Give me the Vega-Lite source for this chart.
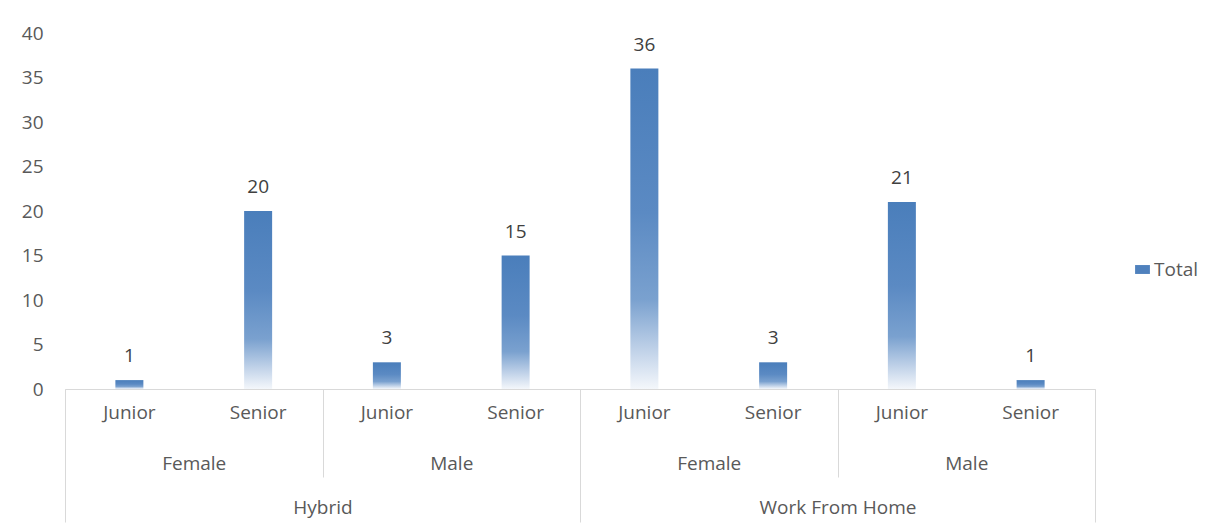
{
  "$schema": "https://vega.github.io/schema/vega-lite/v6.json",
  "width": 1030,
  "height": 356,
  "autosize": "none",
  "padding": {"left": 65, "top": 33, "right": 125, "bottom": 140},
  "background": "white",
  "config": {"view": {"stroke": null}, "font": "Open Sans"},
  "data": {
    "values": [
      {"mode": "Hybrid", "gender": "Female", "level": "Junior", "gkey": "Hybrid|Female", "key": "Hybrid|Female|Junior", "Total": 1},
      {"mode": "Hybrid", "gender": "Female", "level": "Senior", "gkey": "Hybrid|Female", "key": "Hybrid|Female|Senior", "Total": 20},
      {"mode": "Hybrid", "gender": "Male", "level": "Junior", "gkey": "Hybrid|Male", "key": "Hybrid|Male|Junior", "Total": 3},
      {"mode": "Hybrid", "gender": "Male", "level": "Senior", "gkey": "Hybrid|Male", "key": "Hybrid|Male|Senior", "Total": 15},
      {"mode": "Work From Home", "gender": "Female", "level": "Junior", "gkey": "Work From Home|Female", "key": "Work From Home|Female|Junior", "Total": 36},
      {"mode": "Work From Home", "gender": "Female", "level": "Senior", "gkey": "Work From Home|Female", "key": "Work From Home|Female|Senior", "Total": 3},
      {"mode": "Work From Home", "gender": "Male", "level": "Junior", "gkey": "Work From Home|Male", "key": "Work From Home|Male|Junior", "Total": 21},
      {"mode": "Work From Home", "gender": "Male", "level": "Senior", "gkey": "Work From Home|Male", "key": "Work From Home|Male|Senior", "Total": 1}
    ]
  },
  "layer": [
    {
      "layer": [
        {
          "mark": {
            "type": "bar",
            "size": 28,
            "fill": {
              "gradient": "linear",
              "x1": 0, "y1": 0, "x2": 0, "y2": 1,
              "stops": [
                {"offset": 0, "color": "#4a7ebb"},
                {"offset": 0.45, "color": "#5b8ac3"},
                {"offset": 0.72, "color": "#7aa1cf"},
                {"offset": 0.87, "color": "#bccfe7"},
                {"offset": 1, "color": "#f4f7fb"}
              ]
            }
          },
          "encoding": {
            "x": {
              "field": "key", "type": "nominal", "sort": null,
              "scale": {"type": "band", "paddingInner": 0, "paddingOuter": 0},
              "axis": {
                "title": null,
                "labelExpr": "split(datum.label,'|')[2]",
                "labelAngle": 0,
                "ticks": false,
                "domain": true,
                "domainColor": "#d9d9d9",
                "labelPadding": 23,
                "labelBaseline": "middle",
                "labelFontSize": 19,
                "labelColor": "#595959",
                "labelFont": "Open Sans"
              }
            },
            "y": {
              "field": "Total", "type": "quantitative",
              "scale": {"domain": [0, 40]},
              "axis": {
                "title": null,
                "values": [0, 5, 10, 15, 20, 25, 30, 35, 40],
                "domain": false,
                "ticks": false,
                "grid": false,
                "labelPadding": 22,
                "labelFontSize": 19,
                "labelColor": "#595959",
                "labelFont": "Open Sans"
              }
            }
          }
        },
        {
          "mark": {"type": "text", "dy": -24, "fontSize": 19, "color": "#404040", "font": "Open Sans"},
          "encoding": {
            "x": {"field": "key", "type": "nominal", "sort": null},
            "y": {"field": "Total", "type": "quantitative"},
            "text": {"field": "Total", "type": "quantitative"}
          }
        },
        {
          "mark": {"type": "bar", "size": 28},
          "encoding": {
            "x": {"field": "key", "type": "nominal", "sort": null},
            "y": {"datum": 0},
            "y2": {"datum": 0},
            "color": {
              "datum": "Total",
              "scale": {"range": ["#4f81bd"]},
              "legend": {
                "title": null,
                "orient": "none",
                "legendX": 1068,
                "legendY": 227,
                "padding": 0,
                "symbolType": "M-1,-0.6H1V0.6H-1Z",
                "symbolSize": 220,
                "symbolStrokeWidth": 0,
                "labelOffset": 2,
                "labelFontSize": 19,
                "labelColor": "#595959",
                "labelFont": "Open Sans"
              }
            }
          }
        }
      ]
    },
    {
      "mark": {"type": "text", "text": ""},
      "encoding": {
        "x": {
          "field": "gkey", "type": "nominal", "sort": null,
          "scale": {"type": "band", "paddingInner": 0, "paddingOuter": 0},
          "axis": {
            "orient": "bottom",
            "title": null,
            "labelExpr": "split(datum.label,'|')[1]",
            "labelAngle": 0,
            "domain": false,
            "ticks": true,
            "tickBand": "extent",
            "tickSize": 88,
            "tickColor": "#d9d9d9",
            "labelPadding": -14,
            "labelBaseline": "middle",
            "labelFontSize": 19,
            "labelColor": "#595959",
            "labelFont": "Open Sans"
          }
        }
      }
    },
    {
      "mark": {"type": "text", "text": ""},
      "encoding": {
        "x": {
          "field": "mode", "type": "nominal", "sort": null,
          "scale": {"type": "band", "paddingInner": 0, "paddingOuter": 0},
          "axis": {
            "orient": "bottom",
            "title": null,
            "labelAngle": 0,
            "domain": false,
            "ticks": true,
            "tickBand": "extent",
            "tickSize": 133,
            "tickColor": "#d9d9d9",
            "labelPadding": -15,
            "labelBaseline": "middle",
            "labelFontSize": 19,
            "labelColor": "#595959",
            "labelFont": "Open Sans"
          }
        }
      }
    }
  ],
  "resolve": {"scale": {"x": "independent"}, "axis": {"x": "independent"}}
}
